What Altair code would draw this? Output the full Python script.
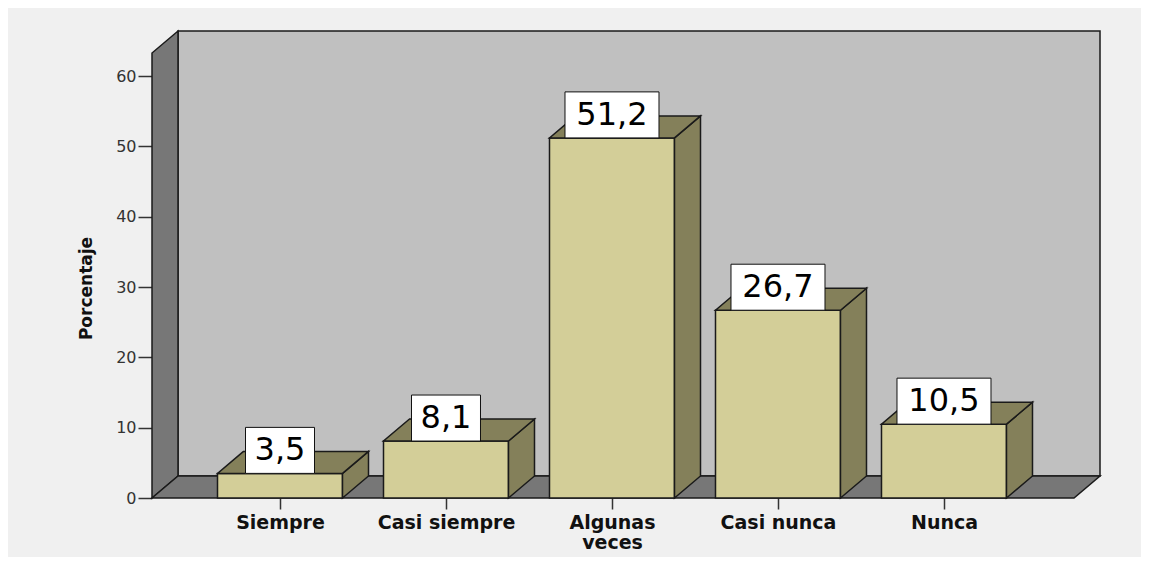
import json
import altair as alt
import pandas as pd

# ---------------- data ----------------
categories = ["Siempre", "Casi siempre", "Algunas veces", "Casi nunca", "Nunca"]
tick_lines = [["Siempre"], ["Casi siempre"], ["Algunas", "veces"], ["Casi nunca"], ["Nunca"]]
values = [3.5, 8.1, 51.2, 26.7, 10.5]
value_labels = ["3,5", "8,1", "51,2", "26,7", "10,5"]
y_ticks = [0, 10, 20, 30, 40, 50, 60]
title_text = "Región: Suroccidente"
y_title = "Porcentaje"

# ---------------- geometry (data units) ----------------
PX_X = 166.0                     # pixels per category step
X_MIN, X_MAX = -0.7711, 4.9398   # plot range in category units
Y_MAX = 66.40                    # plot range in percent units
PX_Y = 467.0 / Y_MAX             # pixels per percent unit
DX = 26.0 / PX_X                 # 3-D depth offset (x)
DY = 22.0 / PX_Y                 # 3-D depth offset (y)
HW = 62.5 / PX_X                 # half bar width
WALL_TOP = Y_MAX - DY
BOX_H = 46.0 / PX_Y

idx = list(range(len(categories)))

bars = pd.DataFrame({
    "i": idx,
    "cat": categories,
    "v": values,
    "lab": value_labels,
})
bars["l"] = bars["i"] - HW
bars["r"] = bars["i"] + HW
bars["zero"] = 0.0
bars["bw"] = bars["lab"].str.len().apply(lambda n: (25.0 * n - 6.0) / 2.0 / PX_X)
bars["bl"] = bars["i"] - bars["bw"]
bars["br"] = bars["i"] + bars["bw"]
bars["bt"] = bars["v"] + BOX_H
bars["ty"] = bars["v"] + BOX_H / 2.0

side_rows, top_rows = [], []
for i, v in zip(idx, values):
    l, r = i - HW, i + HW
    side_rows += [{"id": i, "x": r, "y": 0.0, "y2": v},
                  {"id": i, "x": r + DX, "y": DY, "y2": v + DY}]
    top_rows += [{"id": i, "y": v, "x": l, "x2": r},
                 {"id": i, "y": v + DY, "x": l + DX, "x2": r + DX}]
side_df = pd.DataFrame(side_rows)
top_df = pd.DataFrame(top_rows)

back_df = pd.DataFrame([{"x": X_MIN + DX, "x2": X_MAX, "y": DY, "y2": Y_MAX}])
left_df = pd.DataFrame([{"x": X_MIN, "y": 0.0, "y2": WALL_TOP},
                        {"x": X_MIN + DX, "y": DY, "y2": Y_MAX}])
floor_df = pd.DataFrame([{"y": 0.0, "x": X_MIN, "x2": X_MAX - DX},
                         {"y": DY, "x": X_MIN + DX, "x2": X_MAX}])

# ---------------- scales / axes ----------------
x_scale = alt.Scale(domain=[X_MIN, X_MAX], nice=False, zero=False)
y_scale = alt.Scale(domain=[0, Y_MAX], nice=False, zero=False)

x_axis = alt.Axis(
    values=idx, labelExpr=json.dumps(tick_lines) + "[datum.value]",
    domain=False, grid=False, tickSize=11, tickColor="#333333", tickWidth=1.5,
    labelFont="DejaVu Sans", labelFontSize=19, labelFontWeight="bold",
    labelColor="#111111", labelPadding=4, labelLineHeight=20,
    labelOverlap=False, labelFlush=False, title=None,
)
y_axis = alt.Axis(
    values=y_ticks, domain=False, grid=False, tickSize=14, tickColor="#333333",
    tickWidth=1.5, labelFont="DejaVu Sans", labelFontSize=16, labelColor="#333333",
    labelPadding=2, labelFlush=False, title=y_title, titleFont="DejaVu Sans",
    titleFontSize=17, titleFontWeight="bold", titleColor="#111111",
    titleX=-66, titleY=257, titleBaseline="middle", titleAlign="center",
)


def X(f):
    return alt.X(f, type="quantitative", scale=x_scale, axis=x_axis, stack=None)


def Y(f):
    return alt.Y(f, type="quantitative", scale=y_scale, axis=y_axis, stack=None)


STROKE = "#1a1a1a"
WALL = "#777777"
BACK = "#c0c0c0"
FRONT = "#d3ce98"
SIDE = "#84805a"

back = alt.Chart(back_df).mark_rect(fill=BACK, stroke=STROKE, strokeWidth=1.5).encode(
    x=X("x"), x2="x2", y=Y("y"), y2="y2")
left = alt.Chart(left_df).mark_area(orient="vertical", fill=WALL, stroke=STROKE,
                                    strokeWidth=1.5, opacity=1).encode(
    x=X("x"), y=Y("y"), y2="y2")
floor = alt.Chart(floor_df).mark_area(orient="horizontal", fill=WALL, stroke=STROKE,
                                      strokeWidth=1.5, opacity=1).encode(
    y=Y("y"), x=X("x"), x2="x2")

front = alt.Chart(bars).mark_rect(fill=FRONT, stroke=STROKE, strokeWidth=1.5).encode(
    x=X("l"), x2="r", y=Y("zero"), y2="v")
side = alt.Chart(side_df).mark_area(orient="vertical", fill=SIDE, stroke=STROKE,
                                    strokeWidth=1.5, opacity=1).encode(
    x=X("x"), y=Y("y"), y2="y2", detail="id:N")
top = alt.Chart(top_df).mark_area(orient="horizontal", fill=SIDE, stroke=STROKE,
                                  strokeWidth=1.5, opacity=1).encode(
    y=Y("y"), x=X("x"), x2="x2", detail="id:N")

boxes = alt.Chart(bars).mark_rect(fill="white", stroke="#111111", strokeWidth=1).encode(
    x=X("bl"), x2="br", y=Y("v"), y2="bt")
texts = alt.Chart(bars).mark_text(font="DejaVu Sans", fontSize=32, color="black",
                                  baseline="middle", align="center").encode(
    x=X("i"), y=Y("ty"), text="lab:N")

chart = alt.layer(back, left, floor, front, side, top, boxes, texts).properties(
    width=948, height=467,
    autosize=alt.AutoSizeParams(type="none"),
    padding={"left": 144, "top": 23, "right": 41, "bottom": 59},
    title=alt.Title(title_text, font="DejaVu Sans", fontSize=16, fontWeight="bold",
                    color="#111111", anchor="middle", dx=-40, offset=18,
                    baseline="alphabetic"),
).configure(background="#f0f0f0").configure_view(stroke=None)

chart.save("out.html", embed_options={"renderer": "svg", "actions": False})
